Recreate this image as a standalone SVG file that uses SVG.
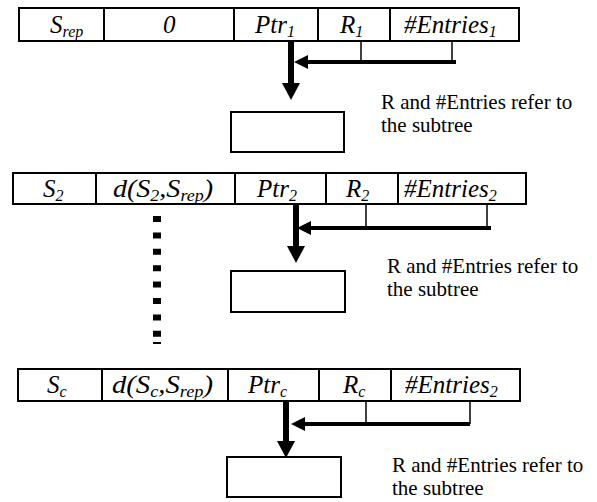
<svg xmlns="http://www.w3.org/2000/svg" width="597" height="502" viewBox="0 0 597 502">
<style>
.cell{fill:#fff;stroke:#000;stroke-width:2}
.div{stroke:#000;stroke-width:2}
.ct{font-family:'Times New Roman','Liberation Serif',serif;font-style:italic;font-size:25px;fill:#000}
.sub{font-size:16px}
.note{font-family:'Times New Roman','Liberation Serif',serif;font-size:21px;fill:#000}
.box{fill:#fff;stroke:#000;stroke-width:2}
.thick{stroke:#000;stroke-width:6;fill:none}
.mid{stroke:#000;stroke-width:4;fill:none}
.tick{stroke:#000;stroke-width:1.5;fill:none}
.dots{stroke:#000;stroke-width:8;stroke-dasharray:6 10.4;fill:none}
</style>
<defs>
<marker id="hv" markerUnits="userSpaceOnUse" viewBox="0 -9 17 18" markerWidth="17" markerHeight="18" refX="0" refY="0" orient="auto" overflow="visible"><path d="M0,-9 L17,0 L0,9 z" fill="#000"/></marker>
<marker id="hh" markerUnits="userSpaceOnUse" viewBox="0 -7 14 14" markerWidth="14" markerHeight="14" refX="0" refY="0" orient="auto" overflow="visible"><path d="M0,-7 L14,0 L0,7 z" fill="#000"/></marker>
</defs>

<g id="record1">
<rect class="cell" x="19" y="8" width="500" height="33"/>
<line class="div" x1="104" y1="8" x2="104" y2="41"/>
<line class="div" x1="234" y1="8" x2="234" y2="41"/>
<line class="div" x1="318" y1="8" x2="318" y2="41"/>
<line class="div" x1="390" y1="8" x2="390" y2="41"/>
<text class="ct" x="50" y="33">S<tspan class="sub" dy="4">rep</tspan></text>
<text class="ct" x="163" y="33">0</text>
<text class="ct" x="255" y="33">Ptr<tspan class="sub" dy="4">1</tspan></text>
<text class="ct" x="340" y="33">R<tspan class="sub" dy="4">1</tspan></text>
<text class="ct" x="404" y="33">#Entries<tspan class="sub" dy="4">1</tspan></text>
</g>

<g id="subtree1">
<rect class="box" x="231" y="112" width="113" height="40"/>
</g>

<g id="note1">
<text class="note" x="381" y="109">R and #Entries refer to</text>
<text class="note" x="381" y="132">the subtree</text>
</g>

<g id="record2">
<rect class="cell" x="13" y="173" width="513" height="31"/>
<line class="div" x1="96" y1="173" x2="96" y2="204"/>
<line class="div" x1="235" y1="173" x2="235" y2="204"/>
<line class="div" x1="326" y1="173" x2="326" y2="204"/>
<line class="div" x1="398" y1="173" x2="398" y2="204"/>
<text class="ct" x="43" y="197">S<tspan class="sub" dy="4">2</tspan></text>
<text class="ct" x="113" y="197" textLength="100" lengthAdjust="spacingAndGlyphs">d(S<tspan class="sub" dy="4">2</tspan><tspan dy="-4">,S</tspan><tspan class="sub" dy="4">rep</tspan><tspan dy="-4">)</tspan></text>
<text class="ct" x="257" y="197">Ptr<tspan class="sub" dy="4">2</tspan></text>
<text class="ct" x="346" y="197">R<tspan class="sub" dy="4">2</tspan></text>
<text class="ct" x="404" y="197">#Entries<tspan class="sub" dy="4">2</tspan></text>
</g>

<g id="subtree2">
<rect class="box" x="231" y="271" width="114" height="41"/>
</g>

<g id="note2">
<text class="note" x="387" y="273">R and #Entries refer to</text>
<text class="note" x="387" y="296">the subtree</text>
</g>

<g id="record3">
<rect class="cell" x="18" y="369" width="502" height="32"/>
<line class="div" x1="102" y1="369" x2="102" y2="401"/>
<line class="div" x1="228" y1="369" x2="228" y2="401"/>
<line class="div" x1="319" y1="369" x2="319" y2="401"/>
<line class="div" x1="391" y1="369" x2="391" y2="401"/>
<text class="ct" x="47" y="393">S<tspan class="sub" dy="4">c</tspan></text>
<text class="ct" x="112" y="393" textLength="101" lengthAdjust="spacingAndGlyphs">d(S<tspan class="sub" dy="4">c</tspan><tspan dy="-4">,S</tspan><tspan class="sub" dy="4">rep</tspan><tspan dy="-4">)</tspan></text>
<text class="ct" x="248" y="393">Ptr<tspan class="sub" dy="4">c</tspan></text>
<text class="ct" x="343" y="393">R<tspan class="sub" dy="4">c</tspan></text>
<text class="ct" x="405" y="393">#Entries<tspan class="sub" dy="4">2</tspan></text>
</g>

<g id="subtree3">
<rect class="box" x="227" y="457" width="114" height="40"/>
</g>

<g id="note3">
<text class="note" x="392" y="472">R and #Entries refer to</text>
<text class="note" x="392" y="495">the subtree</text>
</g>

<g id="connectors">
<line class="thick" x1="291" y1="41" x2="291" y2="83" marker-end="url(#hv)"/>
<line class="tick" x1="361" y1="41" x2="361" y2="62"/>
<line class="tick" x1="452" y1="41" x2="452" y2="62"/>
<line class="mid" x1="456" y1="62" x2="308" y2="62" marker-end="url(#hh)"/>

<line class="thick" x1="296" y1="204" x2="296" y2="246" marker-end="url(#hv)"/>
<line class="tick" x1="366" y1="204" x2="366" y2="228"/>
<line class="tick" x1="487" y1="204" x2="487" y2="228"/>
<line class="mid" x1="491" y1="228" x2="311" y2="228" marker-end="url(#hh)"/>

<line class="thick" x1="286" y1="401" x2="286" y2="441" marker-end="url(#hv)"/>
<line class="tick" x1="366" y1="401" x2="366" y2="424"/>
<line class="tick" x1="470" y1="401" x2="470" y2="424"/>
<line class="mid" x1="470" y1="424" x2="305" y2="424" marker-end="url(#hh)"/>

<line class="dots" x1="157" y1="216" x2="157" y2="337"/>
<rect x="153" y="342" width="8" height="2" fill="#000"/>
</g>
</svg>
